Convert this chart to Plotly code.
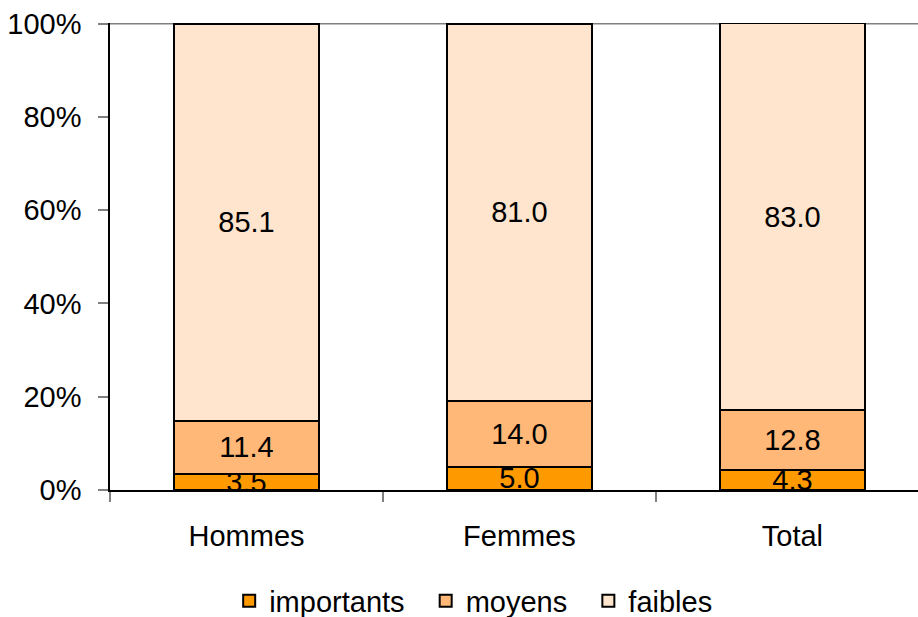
import plotly.graph_objects as go

categories = ["Hommes", "Femmes", "Total"]
importants = [3.5, 5.0, 4.3]
moyens = [11.4, 14.0, 12.8]
faibles = [85.1, 81.0, 83.0]
y_ticks = [0, 20, 40, 60, 80, 100]
y_tick_labels = ["0%", "20%", "40%", "60%", "80%", "100%"]

FONT = "Liberation Sans, Arial, sans-serif"
series = [
    ("importants", importants, "#FF9900"),
    ("moyens", moyens, "#FFB877"),
    ("faibles", faibles, "#FFE5CD"),
]

fig = go.Figure()
for name, vals, color in series:
    fig.add_trace(go.Bar(
        name=name + "\u00a0\u00a0", x=categories, y=vals,
        marker=dict(color=color, line=dict(color="black", width=2)),
        text=[f"{v:.1f}" for v in vals],
        textposition="inside", insidetextanchor="middle",
        constraintext="none", cliponaxis=False,
        textfont=dict(family=FONT, size=29, color="black"),
        width=0.53,
    ))

fig.update_layout(
    barmode="stack",
    width=918, height=617,
    margin=dict(l=110, r=0, t=23, b=127, autoexpand=False),
    plot_bgcolor="white", paper_bgcolor="white",
    font=dict(family=FONT, size=29, color="black"),
    legend=dict(orientation="h", x=0.46, xanchor="center",
                yref="container", y=0.026, yanchor="middle",
                font=dict(size=29), traceorder="normal", itemwidth=30),
    shapes=[dict(type="line", xref="paper", yref="y", x0=0, x1=1, y0=100, y1=100,
                 line=dict(color="#808080", width=2), layer="below")],
)
fig.update_xaxes(
    type="category", range=[-0.5, 2.46], automargin=False,
    showline=True, linecolor="black", linewidth=1.5,
    ticks="outside", tickson="boundaries", ticklen=10, tickcolor="#808080", tickwidth=2,
    showgrid=False, ticklabelstandoff=19, ticklabeloverflow="allow",
)
fig.update_yaxes(
    range=[0, 100.12], tickvals=y_ticks, ticktext=y_tick_labels, automargin=False,
    showline=True, linecolor="black", linewidth=1.5,
    ticks="outside", ticklen=10, tickcolor="#808080", tickwidth=2,
    showgrid=False, zeroline=False, ticklabelstandoff=11, ticklabeloverflow="allow",
)
fig.write_html("out.html", config={"displayModeBar": False},
               post_script="document.body.style.margin='0';")
